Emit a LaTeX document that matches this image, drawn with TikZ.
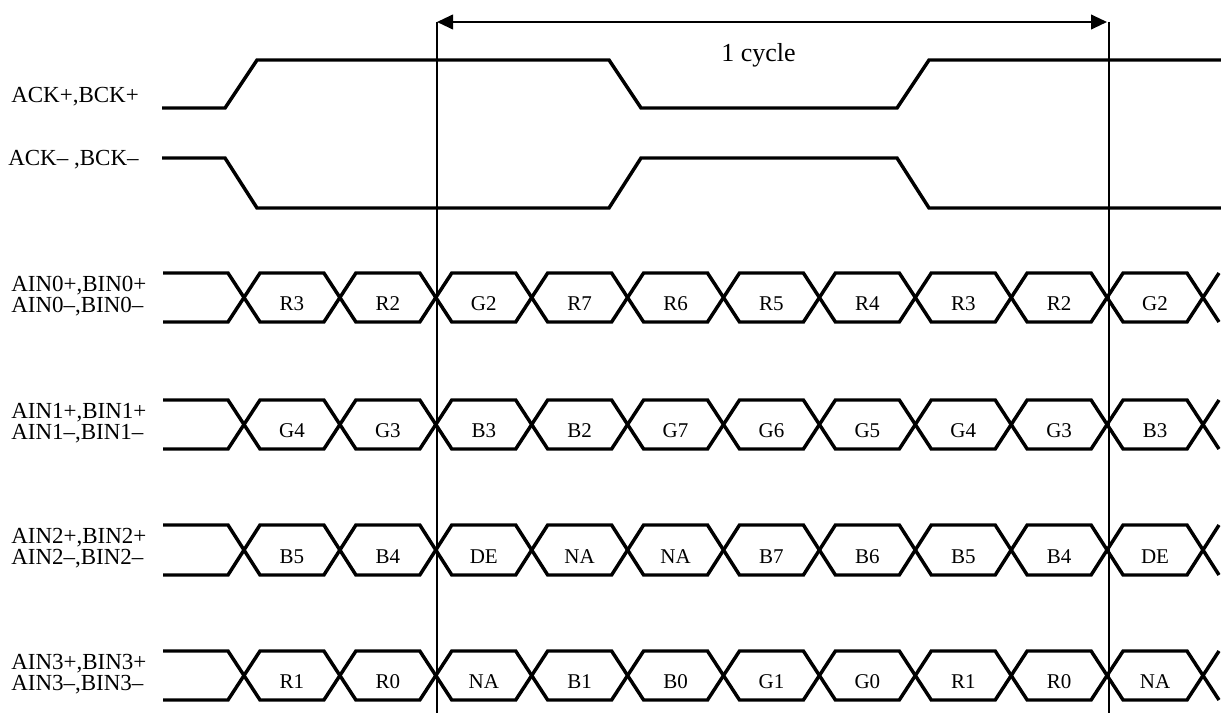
\documentclass[tikz,border=0pt]{standalone}
\usepackage{fontspec}
\setmainfont{Liberation Serif}
\usetikzlibrary{arrows.meta}
\begin{document}
\begin{tikzpicture}[x=0.75pt,y=-0.75pt,
  sig/.style={line width=2.6pt, line join=miter},
  guide/.style={line width=1.5pt},
  lbl/.style={inner sep=0pt, anchor=base west, font=\fontsize{17.25}{20}\selectfont},
  cell/.style={inner sep=0pt, anchor=base, font=\fontsize{15.75}{18}\selectfont},
  dimline/.style={line width=1.5pt, {Triangle[length=12pt,width=11pt]}-{Triangle[length=12pt,width=11pt]}}]
\useasboundingbox (0,0) rectangle (1221,713);
\fill[white] (0,0) rectangle (1221,713);

% guide lines and cycle arrow
\coordinate (vt1) at (437,22);
\coordinate (vb1) at (437,713);
\coordinate (vt2) at (1109,22);
\coordinate (vb2) at (1109,713);
\coordinate (ar2) at (1107,22);
\draw[guide] (vt1) -- (vb1);
\draw[guide] (vt2) -- (vb2);
\draw[dimline] (vt1) -- (ar2);
\node[inner sep=0pt, anchor=base, font=\fontsize{19.5}{22}\selectfont] (cyc) at (758.5,62) {1 cycle};

% clock signals
\node[lbl] (ckp) at (11,103) {ACK+,BCK+};
\node[lbl] (ckm) at (8,166) {ACK– ,BCK–};
\draw[sig] (162,108) -- (225,108) -- (257,60) -- (609,60) -- (641,108) -- (897,108) -- (929,60) -- (1225,60);
\draw[sig] (162,158) -- (225,158) -- (257,208) -- (609,208) -- (641,158) -- (897,158) -- (929,208) -- (1225,208);

% data buses
\foreach \T/\B/\n/\vals in {
  273/322/0/{R3,R2,G2,R7,R6,R5,R4,R3,R2,G2},
  400/449/1/{G4,G3,B3,B2,G7,G6,G5,G4,G3,B3},
  525/575/2/{B5,B4,DE,NA,NA,B7,B6,B5,B4,DE},
  651/700/3/{R1,R0,NA,B1,B0,G1,G0,R1,R0,NA}} {
  \node[lbl] (lp\n) at (11,\T+18) {AIN\n+,BIN\n+};
  \node[lbl] (lm\n) at (11,\T+39) {AIN\n–,BIN\n–};
  \draw[sig] (163,\T) \foreach \k [evaluate=\k as \cx using {244+95.9*\k},
      evaluate=\k as \ya using {\T+(\B-\T)*mod(\k,2)},
      evaluate=\k as \yb using {\B-(\B-\T)*mod(\k,2)}] in {0,...,10} {
      -- (\cx-16,\ya) -- (\cx+16,\yb) };
  \draw[sig] (163,\B) \foreach \k [evaluate=\k as \cx using {244+95.9*\k},
      evaluate=\k as \ya using {\B-(\B-\T)*mod(\k,2)},
      evaluate=\k as \yb using {\T+(\B-\T)*mod(\k,2)}] in {0,...,10} {
      -- (\cx-16,\ya) -- (\cx+16,\yb) };
  \foreach \v [count=\j from 0] in \vals {
    \node[cell] (d\n-\j) at ({244+95.9*(\j+0.5)},{(\T+\B)/2+13}) {\v};
  }
}
\end{tikzpicture}
\end{document}
